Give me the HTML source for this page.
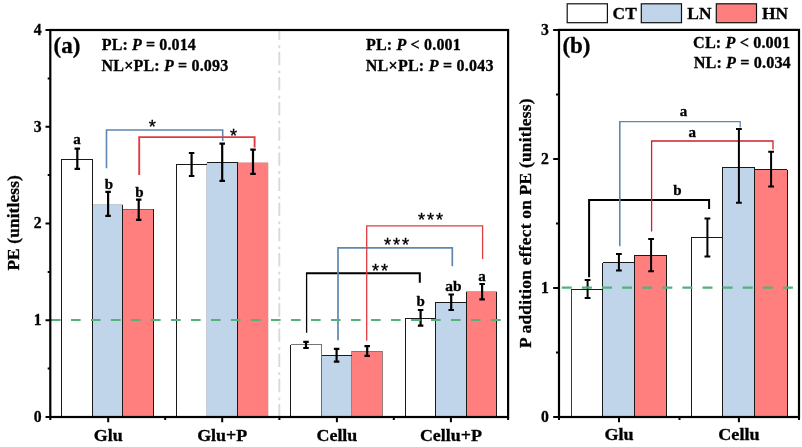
<!DOCTYPE html>
<html lang="en"><head><meta charset="utf-8"><title>Priming effect chart</title>
<style>
html,body{margin:0;padding:0;background:#fff;}
svg{display:block;}
svg text{font-family:"Liberation Serif",serif;font-weight:bold;fill:#000;stroke:#000;stroke-width:0.3px;}
</style></head><body>
<svg width="802" height="447" viewBox="0 0 802 447">
<rect width="802" height="447" fill="#fff"/>
<rect x="61.50" y="159.40" width="30.70" height="257.60" fill="#FFFFFF"/>
<rect x="92.20" y="204.50" width="30.60" height="212.50" fill="#C0D5EA"/>
<rect x="122.80" y="209.30" width="30.60" height="207.70" fill="#FF7F7F"/>
<path d="M61.50 159.40H92.20" stroke="#1a1a1a" stroke-width="1" stroke-opacity="1" fill="none" shape-rendering="crispEdges"/>
<path d="M92.20 204.50H122.80" stroke="#1a1a1a" stroke-width="1" stroke-opacity="0.15" fill="none" shape-rendering="crispEdges"/>
<path d="M122.80 209.30H153.40" stroke="#1a1a1a" stroke-width="1" stroke-opacity="0.5" fill="none" shape-rendering="crispEdges"/>
<path d="M61.50 159.40V417.00" stroke="#1a1a1a" stroke-width="1" stroke-opacity="1" fill="none" shape-rendering="crispEdges"/>
<path d="M92.20 159.40V417.00" stroke="#1a1a1a" stroke-width="1" stroke-opacity="1" fill="none" shape-rendering="crispEdges"/>
<path d="M122.80 204.50V417.00" stroke="#1a1a1a" stroke-width="1" stroke-opacity="1" fill="none" shape-rendering="crispEdges"/>
<path d="M153.40 209.30V417.00" stroke="#1a1a1a" stroke-width="1" stroke-opacity="1" fill="none" shape-rendering="crispEdges"/>
<rect x="176.30" y="164.50" width="30.30" height="252.50" fill="#FFFFFF"/>
<rect x="206.60" y="162.60" width="30.90" height="254.40" fill="#C0D5EA"/>
<rect x="237.50" y="162.60" width="30.60" height="254.40" fill="#FF7F7F"/>
<path d="M176.30 164.50H206.60" stroke="#1a1a1a" stroke-width="1" stroke-opacity="1" fill="none" shape-rendering="crispEdges"/>
<path d="M206.60 162.60H237.50" stroke="#1a1a1a" stroke-width="1" stroke-opacity="1" fill="none" shape-rendering="crispEdges"/>
<path d="M237.50 162.60H268.10" stroke="#1a1a1a" stroke-width="1" stroke-opacity="0.1" fill="none" shape-rendering="crispEdges"/>
<path d="M176.30 164.50V417.00" stroke="#1a1a1a" stroke-width="1" stroke-opacity="1" fill="none" shape-rendering="crispEdges"/>
<path d="M206.60 162.60V417.00" stroke="#1a1a1a" stroke-width="1" stroke-opacity="0.15" fill="none" shape-rendering="crispEdges"/>
<path d="M237.50 162.60V417.00" stroke="#1a1a1a" stroke-width="1" stroke-opacity="1" fill="none" shape-rendering="crispEdges"/>
<path d="M268.10 162.60V417.00" stroke="#1a1a1a" stroke-width="1" stroke-opacity="0.1" fill="none" shape-rendering="crispEdges"/>
<rect x="290.50" y="344.60" width="31.00" height="72.40" fill="#FFFFFF"/>
<rect x="321.50" y="355.60" width="30.00" height="61.40" fill="#C0D5EA"/>
<rect x="351.50" y="351.00" width="30.90" height="66.00" fill="#FF7F7F"/>
<path d="M290.50 344.60H321.50" stroke="#1a1a1a" stroke-width="1" stroke-opacity="0.6" fill="none" shape-rendering="crispEdges"/>
<path d="M321.50 355.60H351.50" stroke="#1a1a1a" stroke-width="1" stroke-opacity="1" fill="none" shape-rendering="crispEdges"/>
<path d="M351.50 351.00H382.40" stroke="#1a1a1a" stroke-width="1" stroke-opacity="0.3" fill="none" shape-rendering="crispEdges"/>
<path d="M290.50 344.60V417.00" stroke="#1a1a1a" stroke-width="1" stroke-opacity="1" fill="none" shape-rendering="crispEdges"/>
<path d="M321.50 344.60V417.00" stroke="#1a1a1a" stroke-width="1" stroke-opacity="0.6" fill="none" shape-rendering="crispEdges"/>
<path d="M351.50 351.00V417.00" stroke="#1a1a1a" stroke-width="1" stroke-opacity="0.35" fill="none" shape-rendering="crispEdges"/>
<path d="M382.40 351.00V417.00" stroke="#1a1a1a" stroke-width="1" stroke-opacity="0.45" fill="none" shape-rendering="crispEdges"/>
<rect x="405.20" y="318.10" width="30.50" height="98.90" fill="#FFFFFF"/>
<rect x="435.70" y="302.30" width="30.40" height="114.70" fill="#C0D5EA"/>
<rect x="466.10" y="291.80" width="30.40" height="125.20" fill="#FF7F7F"/>
<path d="M405.20 318.10H435.70" stroke="#1a1a1a" stroke-width="1" stroke-opacity="1" fill="none" shape-rendering="crispEdges"/>
<path d="M435.70 302.30H466.10" stroke="#1a1a1a" stroke-width="1" stroke-opacity="1" fill="none" shape-rendering="crispEdges"/>
<path d="M466.10 291.80H496.50" stroke="#1a1a1a" stroke-width="1" stroke-opacity="0.3" fill="none" shape-rendering="crispEdges"/>
<path d="M405.20 318.10V417.00" stroke="#1a1a1a" stroke-width="1" stroke-opacity="1" fill="none" shape-rendering="crispEdges"/>
<path d="M435.70 302.30V417.00" stroke="#1a1a1a" stroke-width="1" stroke-opacity="1" fill="none" shape-rendering="crispEdges"/>
<path d="M466.10 291.80V417.00" stroke="#1a1a1a" stroke-width="1" stroke-opacity="1" fill="none" shape-rendering="crispEdges"/>
<path d="M496.50 291.80V417.00" stroke="#1a1a1a" stroke-width="1" stroke-opacity="1" fill="none" shape-rendering="crispEdges"/>
<path d="M279.3 30V416.5" stroke="#D9D9D9" stroke-width="1.9" fill="none" stroke-dasharray="13.4 5.3 2.8 3.65" stroke-dashoffset="3.35"/>
<path d="M106.50 168.20V130.00H222.70V140.90" stroke="#5F87AF" stroke-width="1.6" fill="none" stroke-linejoin="miter"/>
<path d="M139.20 175.00V137.10H254.60V147.60" stroke="#E13C41" stroke-width="1.9" fill="none" stroke-linejoin="miter"/>
<path d="M306.60 332.80V273.30" stroke="#000" stroke-width="1.3" fill="none"/>
<path d="M305.95 273.30H419.80V282.70" stroke="#000" stroke-width="2.0" fill="none" stroke-linejoin="miter"/>
<path d="M338.00 340.30V247.80H452.30V266.30" stroke="#5F87AF" stroke-width="1.7" fill="none" stroke-linejoin="miter"/>
<path d="M366.70 340.80V225.80H482.60V259.00" stroke="#E13C41" stroke-width="1.3" fill="none" stroke-linejoin="miter"/>
<path d="M77.30 148.70V168.80M74.55 148.70H80.05M74.55 168.80H80.05" stroke="#000" stroke-width="2.2" fill="none"/>
<path d="M108.10 191.90V215.80M105.35 191.90H110.85M105.35 215.80H110.85" stroke="#000" stroke-width="2.2" fill="none"/>
<path d="M138.70 199.70V219.80M135.95 199.70H141.45M135.95 219.80H141.45" stroke="#000" stroke-width="2.2" fill="none"/>
<path d="M191.60 153.00V176.00M188.85 153.00H194.35M188.85 176.00H194.35" stroke="#000" stroke-width="2.2" fill="none"/>
<path d="M222.20 143.60V180.90M219.45 143.60H224.95M219.45 180.90H224.95" stroke="#000" stroke-width="2.2" fill="none"/>
<path d="M253.00 149.70V173.90M250.25 149.70H255.75M250.25 173.90H255.75" stroke="#000" stroke-width="2.2" fill="none"/>
<path d="M306.00 341.90V348.00M303.25 341.90H308.75M303.25 348.00H308.75" stroke="#000" stroke-width="2.2" fill="none"/>
<path d="M336.60 348.90V361.70M333.85 348.90H339.35M333.85 361.70H339.35" stroke="#000" stroke-width="2.2" fill="none"/>
<path d="M367.20 346.20V355.80M364.45 346.20H369.95M364.45 355.80H369.95" stroke="#000" stroke-width="2.2" fill="none"/>
<path d="M420.60 310.00V325.60M417.85 310.00H423.35M417.85 325.60H423.35" stroke="#000" stroke-width="2.2" fill="none"/>
<path d="M451.20 294.50V310.00M448.45 294.50H453.95M448.45 310.00H453.95" stroke="#000" stroke-width="2.2" fill="none"/>
<path d="M482.10 284.00V299.30M479.35 284.00H484.85M479.35 299.30H484.85" stroke="#000" stroke-width="2.2" fill="none"/>
<path d="M51 320H506" stroke="#52B27A" stroke-width="2.1" fill="none" stroke-dasharray="9.6 10.4"/>
<rect x="50.3" y="30.0" width="457.8" height="387.0" fill="none" stroke="#000" stroke-width="2.2"/>
<path d="M50.30 417.00h-4.8M50.30 368.62h-2.6M50.30 320.25h-4.8M50.30 271.88h-2.6M50.30 223.50h-4.8M50.30 175.12h-2.6M50.30 126.75h-4.8M50.30 78.38h-2.6M50.30 30.00h-4.8M108.20 417.00v5.3M222.20 417.00v5.3M336.90 417.00v5.3M450.90 417.00v5.3M50.30 417.00v3M165.20 417.00v3M279.40 417.00v3M393.80 417.00v3M508.10 417.00v3" stroke="#000" stroke-width="2" fill="none"/>
<text x="41.50" y="421.90" font-size="15.7" text-anchor="end">0</text>
<text x="41.50" y="325.15" font-size="15.7" text-anchor="end">1</text>
<text x="41.50" y="228.40" font-size="15.7" text-anchor="end">2</text>
<text x="41.50" y="131.65" font-size="15.7" text-anchor="end">3</text>
<text x="41.50" y="34.90" font-size="15.7" text-anchor="end">4</text>
<text transform="translate(108.20 441.20) scale(1.08 1)" font-size="16.6" text-anchor="middle">Glu</text>
<text transform="translate(222.20 441.20) scale(1.08 1)" font-size="16.6" text-anchor="middle">Glu+P</text>
<text transform="translate(336.90 441.20) scale(1.08 1)" font-size="16.6" text-anchor="middle">Cellu</text>
<text transform="translate(450.90 441.20) scale(1.08 1)" font-size="16.6" text-anchor="middle">Cellu+P</text>
<text transform="translate(19.0 222.9) rotate(-90)" font-size="17.3" text-anchor="middle" textLength="95.4" lengthAdjust="spacing">PE (unitless)</text>
<text x="53.60" y="53.20" font-size="23" text-anchor="start">(a)</text>
<text x="101.80" y="50.00" font-size="16" text-anchor="start" textLength="94.0" lengthAdjust="spacing">PL: <tspan font-style="italic">P</tspan> = 0.014</text>
<text x="101.60" y="70.80" font-size="16" text-anchor="start" textLength="126.6" lengthAdjust="spacing">NL×PL: <tspan font-style="italic">P</tspan> = 0.093</text>
<text x="366.00" y="50.00" font-size="16" text-anchor="start" textLength="94.8" lengthAdjust="spacing">PL: <tspan font-style="italic">P</tspan> &lt; 0.001</text>
<text x="365.80" y="70.50" font-size="16" text-anchor="start" textLength="127.8" lengthAdjust="spacing">NL×PL: <tspan font-style="italic">P</tspan> = 0.043</text>
<text x="76.90" y="144.20" font-size="15" text-anchor="middle">a</text>
<text x="109.00" y="189.00" font-size="15" text-anchor="middle">b</text>
<text x="139.30" y="196.80" font-size="15" text-anchor="middle">b</text>
<text x="420.60" y="306.20" font-size="15" text-anchor="middle">b</text>
<text x="453.50" y="291.40" font-size="15.4" text-anchor="middle">ab</text>
<text x="482.00" y="281.30" font-size="15" text-anchor="middle">a</text>
<text x="152.40" y="133.30" font-size="18.2" text-anchor="middle" style="font-family:'Liberation Sans',sans-serif;stroke:#000;stroke-width:0.35px;font-weight:normal">*</text>
<text x="233.60" y="141.60" font-size="18.2" text-anchor="middle" style="font-family:'Liberation Sans',sans-serif;stroke:#000;stroke-width:0.35px;font-weight:normal">*</text>
<text x="375.50 384.50" y="277.20" font-size="18.2" text-anchor="middle" style="font-family:'Liberation Sans',sans-serif;stroke:#000;stroke-width:0.35px;font-weight:normal">**</text>
<text x="387.65 396.65 405.65" y="251.40" font-size="18.2" text-anchor="middle" style="font-family:'Liberation Sans',sans-serif;stroke:#000;stroke-width:0.35px;font-weight:normal">***</text>
<text x="421.45 430.45 439.45" y="226.30" font-size="18.2" text-anchor="middle" style="font-family:'Liberation Sans',sans-serif;stroke:#000;stroke-width:0.35px;font-weight:normal">***</text>
<rect x="571.20" y="289.40" width="31.50" height="127.60" fill="#FFFFFF"/>
<rect x="602.70" y="262.50" width="32.00" height="154.50" fill="#C0D5EA"/>
<rect x="634.70" y="255.20" width="32.00" height="161.80" fill="#FF7F7F"/>
<path d="M571.20 289.40H602.70" stroke="#1a1a1a" stroke-width="1" stroke-opacity="1" fill="none" shape-rendering="crispEdges"/>
<path d="M602.70 262.50H634.70" stroke="#1a1a1a" stroke-width="1" stroke-opacity="1" fill="none" shape-rendering="crispEdges"/>
<path d="M634.70 255.20H666.70" stroke="#1a1a1a" stroke-width="1" stroke-opacity="1" fill="none" shape-rendering="crispEdges"/>
<path d="M571.20 289.40V417.00" stroke="#1a1a1a" stroke-width="1" stroke-opacity="0.85" fill="none" shape-rendering="crispEdges"/>
<path d="M602.70 262.50V417.00" stroke="#1a1a1a" stroke-width="1" stroke-opacity="1" fill="none" shape-rendering="crispEdges"/>
<path d="M634.70 255.20V417.00" stroke="#1a1a1a" stroke-width="1" stroke-opacity="1" fill="none" shape-rendering="crispEdges"/>
<path d="M666.70 255.20V417.00" stroke="#1a1a1a" stroke-width="1" stroke-opacity="1" fill="none" shape-rendering="crispEdges"/>
<rect x="691.40" y="237.80" width="31.30" height="179.20" fill="#FFFFFF"/>
<rect x="722.70" y="167.00" width="31.90" height="250.00" fill="#C0D5EA"/>
<rect x="754.60" y="169.50" width="32.80" height="247.50" fill="#FF7F7F"/>
<path d="M691.40 237.80H722.70" stroke="#1a1a1a" stroke-width="1" stroke-opacity="1" fill="none" shape-rendering="crispEdges"/>
<path d="M722.70 167.00H754.60" stroke="#1a1a1a" stroke-width="1" stroke-opacity="1" fill="none" shape-rendering="crispEdges"/>
<path d="M754.60 169.50H787.40" stroke="#1a1a1a" stroke-width="1" stroke-opacity="1" fill="none" shape-rendering="crispEdges"/>
<path d="M691.40 237.80V417.00" stroke="#1a1a1a" stroke-width="1" stroke-opacity="1" fill="none" shape-rendering="crispEdges"/>
<path d="M722.70 167.00V417.00" stroke="#1a1a1a" stroke-width="1" stroke-opacity="1" fill="none" shape-rendering="crispEdges"/>
<path d="M754.60 167.00V417.00" stroke="#1a1a1a" stroke-width="1" stroke-opacity="1" fill="none" shape-rendering="crispEdges"/>
<path d="M787.40 169.50V417.00" stroke="#1a1a1a" stroke-width="1" stroke-opacity="1" fill="none" shape-rendering="crispEdges"/>
<path d="M589.10 277.20V200.00H709.10V209.00" stroke="#000" stroke-width="2.0" fill="none" stroke-linejoin="miter"/>
<path d="M619.80 246.20V121.70" stroke="#5F87AF" stroke-width="1.6" fill="none"/>
<path d="M619.00 121.70H740.20V127.60" stroke="#5F87AF" stroke-width="1.3" fill="none" stroke-linejoin="miter"/>
<path d="M651.60 231.60V141.00H773.00V149.60" stroke="#D21F28" stroke-width="1.3" fill="none" stroke-linejoin="miter"/>
<path d="M587.60 279.90V297.90M584.70 279.90H590.50M584.70 297.90H590.50" stroke="#000" stroke-width="2.0" fill="none"/>
<path d="M618.90 253.90V270.50M616.00 253.90H621.80M616.00 270.50H621.80" stroke="#000" stroke-width="2.0" fill="none"/>
<path d="M651.10 238.90V271.30M648.20 238.90H654.00M648.20 271.30H654.00" stroke="#000" stroke-width="2.0" fill="none"/>
<path d="M707.40 218.60V256.60M704.50 218.60H710.30M704.50 256.60H710.30" stroke="#000" stroke-width="2.0" fill="none"/>
<path d="M738.90 128.90V202.80M736.00 128.90H741.80M736.00 202.80H741.80" stroke="#000" stroke-width="2.0" fill="none"/>
<path d="M771.10 151.70V186.60M768.20 151.70H774.00M768.20 186.60H774.00" stroke="#000" stroke-width="2.0" fill="none"/>
<path d="M561.8 287.6H796" stroke="#52B27A" stroke-width="2.1" fill="none" stroke-dasharray="10 10.1"/>
<rect x="559.0" y="29.9" width="240.0" height="387.1" fill="none" stroke="#000" stroke-width="2.2"/>
<path d="M559.00 417.00h-5.8M559.00 352.48h-3.0M559.00 287.97h-5.8M559.00 223.45h-3.0M559.00 158.93h-5.8M559.00 94.42h-3.0M559.00 29.90h-5.8M619.00 417.00v5.3M738.90 417.00v5.3M679.5 417.00v3M559.0 417.00v3M799.0 417.00v3" stroke="#000" stroke-width="2" fill="none"/>
<text x="548.90" y="421.90" font-size="15.7" text-anchor="end">0</text>
<text x="548.90" y="292.87" font-size="15.7" text-anchor="end">1</text>
<text x="548.90" y="163.83" font-size="15.7" text-anchor="end">2</text>
<text x="548.90" y="34.80" font-size="15.7" text-anchor="end">3</text>
<text transform="translate(619.00 440.00) scale(1.125 1)" font-size="16.1" text-anchor="middle">Glu</text>
<text transform="translate(738.90 440.00) scale(1.125 1)" font-size="16.1" text-anchor="middle">Cellu</text>
<text transform="translate(530.6 223.2) rotate(-90)" font-size="17.4" text-anchor="middle" textLength="249.6" lengthAdjust="spacing">P addition effect on PE (unitless)</text>
<text x="562.40" y="52.60" font-size="23" text-anchor="start">(b)</text>
<text x="693.10" y="47.70" font-size="16.2" text-anchor="start" textLength="97.0" lengthAdjust="spacing">CL: <tspan font-style="italic">P</tspan> &lt; 0.001</text>
<text x="693.70" y="67.90" font-size="16.2" text-anchor="start" textLength="97.0" lengthAdjust="spacing">NL: <tspan font-style="italic">P</tspan> = 0.034</text>
<text x="683.40" y="115.60" font-size="15" text-anchor="middle">a</text>
<text x="692.20" y="137.00" font-size="15" text-anchor="middle">a</text>
<text x="677.50" y="194.70" font-size="15" text-anchor="middle">b</text>
<rect x="567.2" y="3.8" width="40.2" height="18.9" fill="#FFFFFF" stroke="#111" stroke-width="1.2"/>
<text x="612.60" y="18.80" font-size="17.4" text-anchor="start">CT</text>
<rect x="641.3" y="3.8" width="40.2" height="18.9" fill="#C0D5EA" stroke="#111" stroke-width="1.2"/>
<text x="687.30" y="18.80" font-size="17.4" text-anchor="start">LN</text>
<rect x="716.3" y="3.8" width="40.2" height="18.9" fill="#FF7F7F" stroke="#111" stroke-width="1.2"/>
<text x="762.00" y="18.80" font-size="17.4" text-anchor="start">HN</text>
</svg>
</body></html>
